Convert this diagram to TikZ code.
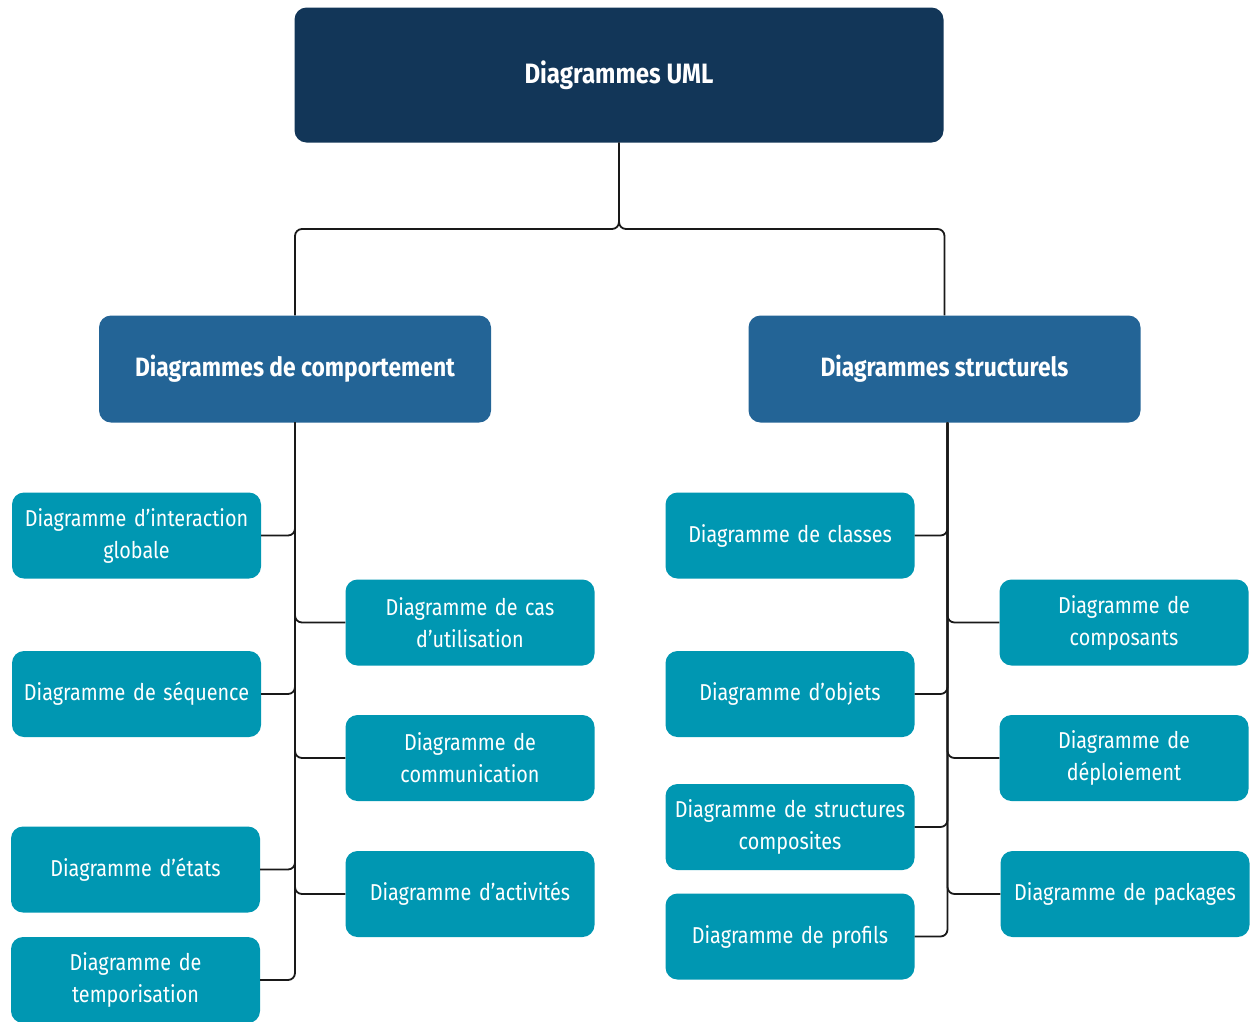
\documentclass[tikz,border=0pt]{standalone}
\usepackage{fontspec}
\setmainfont{Fira Sans}[FakeStretch=0.86, WordSpace=0.7]
\newfontfamily\headfont{Fira Sans}[FakeStretch=0.86]
\definecolor{rootblue}{RGB}{18,54,88}
\definecolor{groupblue}{RGB}{35,100,150}
\definecolor{leafteal}{RGB}{0,151,178}
\begin{document}
\begin{tikzpicture}[x=1pt,y=-1pt,
  box/.style={rounded corners=12pt, inner sep=0pt, align=center, text=white},
  rootbox/.style={box, fill=rootblue, minimum width=649pt, minimum height=135pt,
    font=\headfont\fontsize{28}{34}\selectfont\bfseries},
  groupbox/.style={box, fill=groupblue, minimum width=392pt, minimum height=107pt,
    font=\headfont\fontsize{26.5}{32}\selectfont\bfseries},
  leaf/.style={box, fill=leafteal, minimum width=249pt, minimum height=86pt,
    text width=245pt, font=\fontsize{23}{32}\selectfont},
  link/.style={line width=1.8pt, draw=black!90, rounded corners=7pt}]
\useasboundingbox (0,0) rectangle (1250,1021);

% top level and the two families
\node[rootbox] (uml) at (619,75) {Diagrammes UML};
\node[groupbox] (beh) at (295,369) {Diagrammes de comportement};
\node[groupbox] (str) at (944.5,369) {Diagrammes structurels};

% behaviour diagrams
\node[leaf] (ovr) at (136.5,535.5) {Diagramme d’interaction\\globale};
\node[leaf] (seq) at (136.5,694) {Diagramme de séquence};
\node[leaf] (sta) at (135.5,869.5) {Diagramme d’états};
\node[leaf] (tim) at (135.5,980) {Diagramme de\\temporisation};
\node[leaf] (ucs) at (470,622.5) {Diagramme de cas\\d’utilisation};
\node[leaf] (com) at (470,758) {Diagramme de\\communication};
\node[leaf] (act) at (470,894) {Diagramme d’activités};

% structure diagrams
\node[leaf] (cls) at (790,535.5) {Diagramme de classes};
\node[leaf] (obj) at (790,694) {Diagramme d’objets};
\node[leaf] (cmp) at (790,827) {Diagramme de structures\\composites};
\node[leaf] (prf) at (790,936.5) {Diagramme de profils};
\node[leaf] (cpt) at (1124,622.5) {Diagramme de\\composants};
\node[leaf] (dep) at (1124,758) {Diagramme de\\déploiement};
\node[leaf] (pkg) at (1125,894) {Diagramme de packages};

% connectors
\coordinate (split) at (619,229);
\draw[link] (uml.south) -- (split) -| (beh.north);
\draw[link] (uml.south) -- (split) -| (str.north);

\foreach \c in {ovr,seq,sta,tim}
  \draw[link] (beh.south) |- (\c.east);
\foreach \c in {ucs,com,act}
  \draw[link] (beh.south) |- (\c.west);

\foreach \c in {cls,obj,cmp,prf}
  \draw[link] ([xshift=3pt]str.south) |- (\c.east);
\foreach \c in {cpt,dep,pkg}
  \draw[link] ([xshift=3pt]str.south) |- (\c.west);
\end{tikzpicture}
\end{document}
